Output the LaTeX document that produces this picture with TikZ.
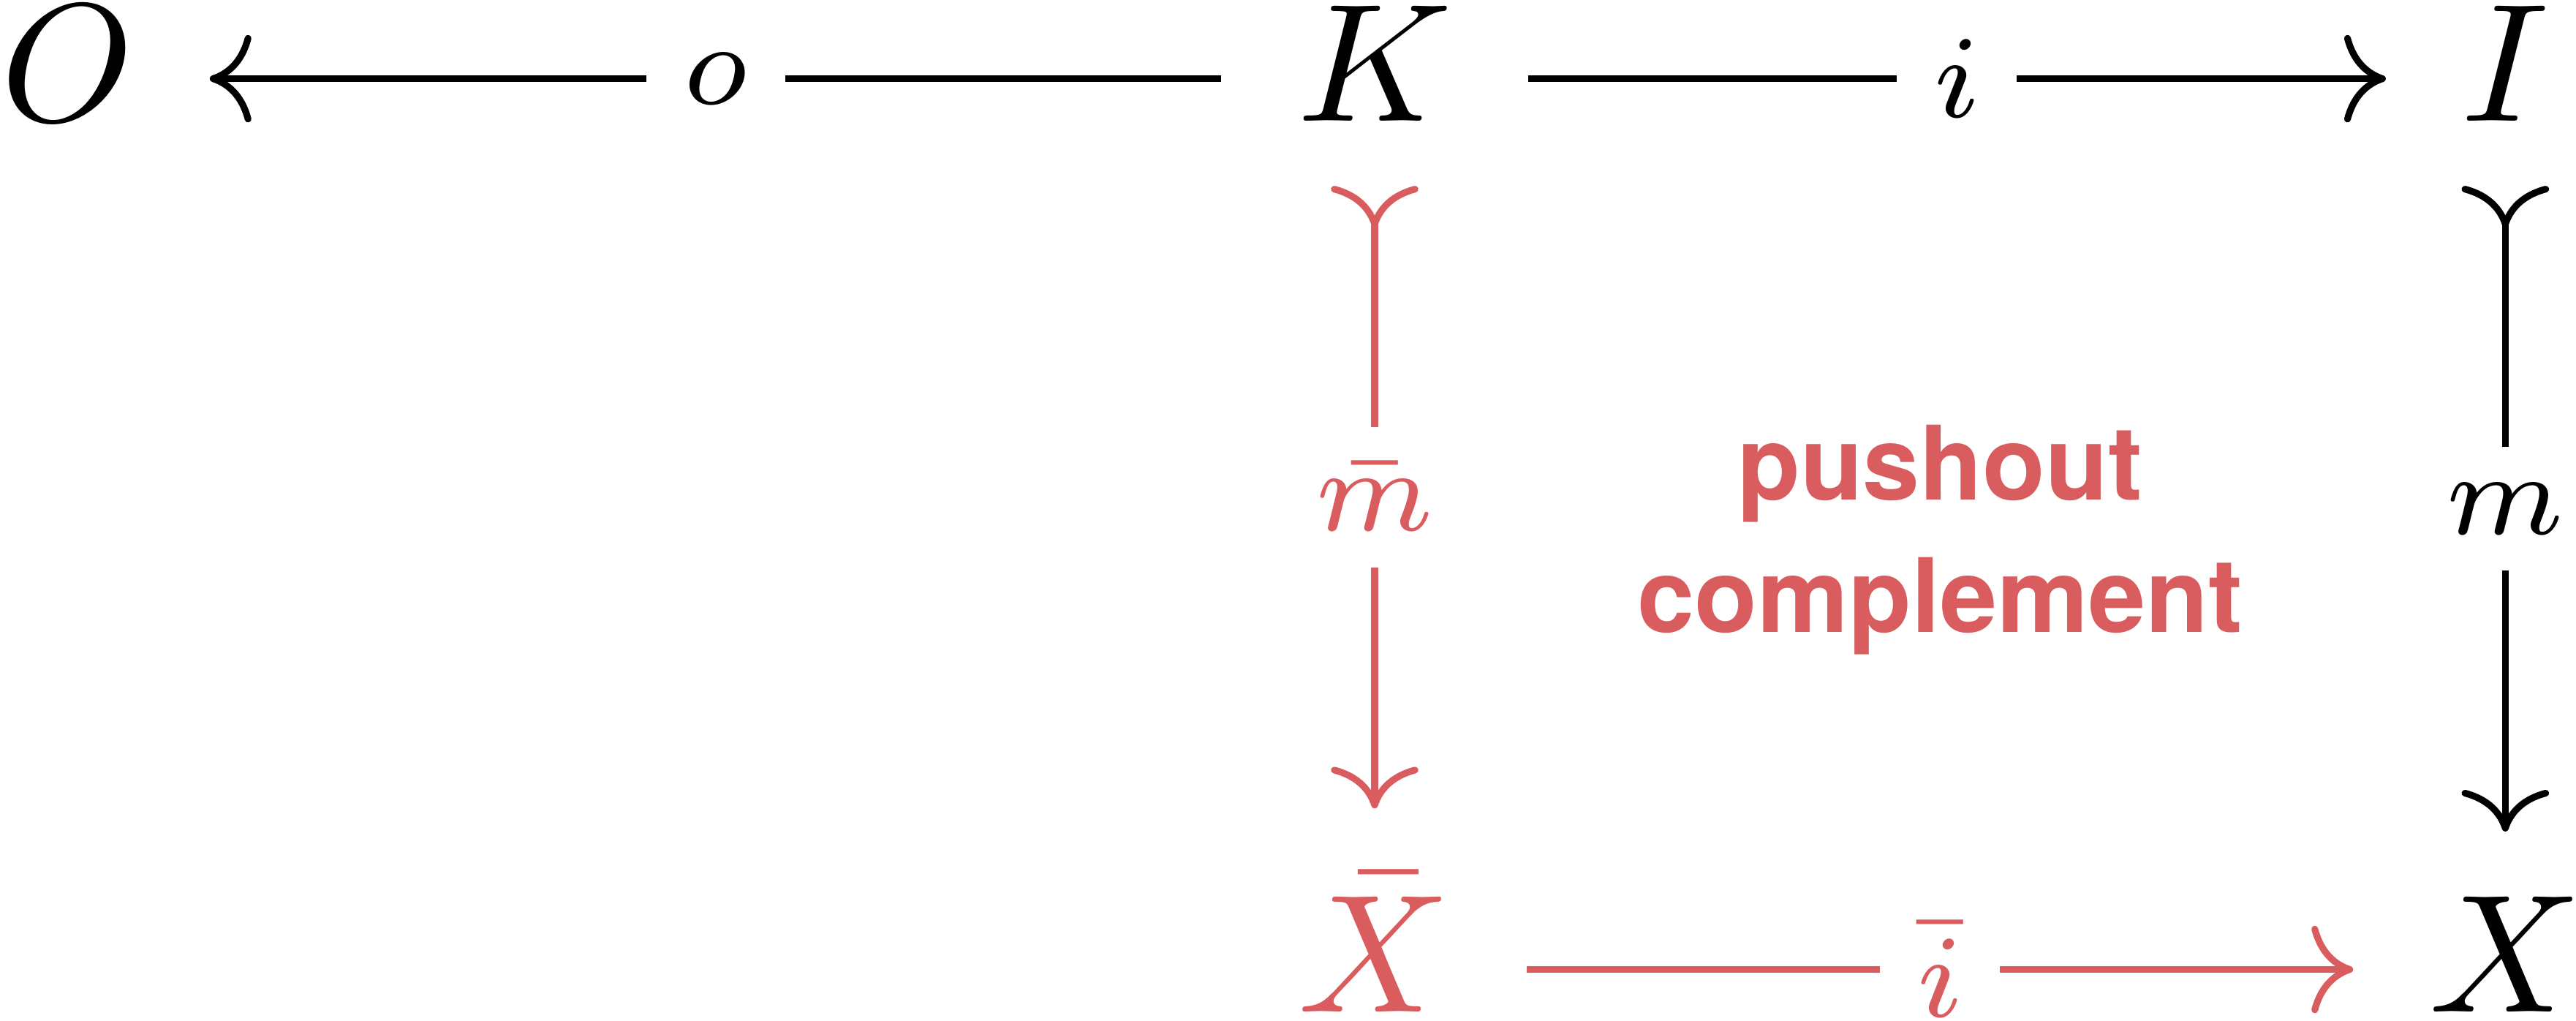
\documentclass[tikz,border=0pt]{standalone}
\usepackage{amsmath}
\usepackage{fontspec}
\newfontfamily\pofont{TeX Gyre Heros}
\usepackage{tikz}
\usetikzlibrary{cd}
\definecolor{pored}{RGB}{217,93,94}

\begin{document}
\begin{tikzpicture}[x=1pt, y=1pt,
    obj/.style={shape=asymmetrical rectangle, inner xsep=1ex, inner ysep=0.85ex},
    lbl/.style={midway, fill=white, inner sep=0.5ex, anchor=center},
    mor/.style={-{tikzcd to}},
    mono/.style={{tikzcd to[reversed]}-{tikzcd to}}]
    \useasboundingbox (0,0) rectangle (153.1,60.64);
    % objects
    \node[obj] (O)  at (4.0,55.96)   {$O$};
    \node[obj] (K)  at (81.7,55.96)  {$K$};
    \node[obj] (I)  at (148.9,55.96) {$I$};
    \node[obj,text=pored] (Xb) at (81.7,3.03) {$\bar{X}$};
    \node[obj] (X)  at (148.9,3.03)  {$X$};
    % morphisms
    \draw[mor] (K) -- (O) node[lbl] (lo) {$\scriptstyle o$};
    \draw[mor] (K) -- (I) node[lbl] (li) {$\scriptstyle i$};
    \draw[mono] (I) -- (X) node[lbl] (lm) {$\scriptstyle m$};
    \draw[mono,pored] (K) -- (Xb) node[lbl,text=pored] (lmb) {$\scriptstyle \bar{m}$};
    \draw[mor,pored] (Xb) -- (X) node[lbl,text=pored] (lib) {$\scriptstyle \bar{i}$};
    \node[align=center, anchor=base, text=pored, font=\pofont\bfseries\fontsize{6.1}{7.9}\selectfont] (po) at (115.3,23.05) {pushout\\complement};
\end{tikzpicture}
\end{document}
